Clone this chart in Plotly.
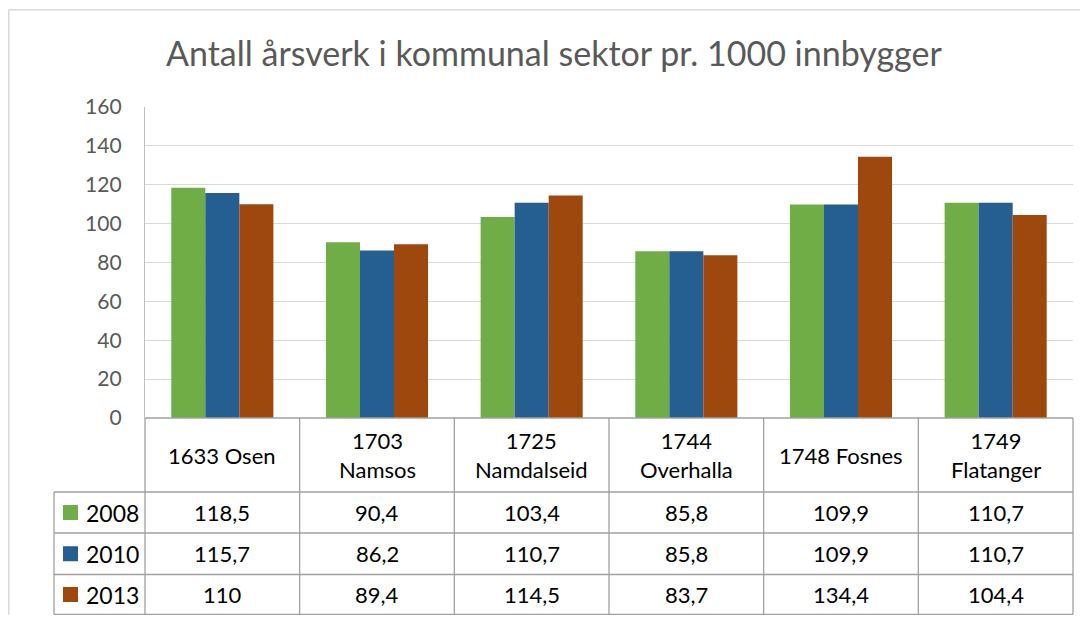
import plotly.graph_objects as go

# ---- data ----
categories = ["1633 Osen", "1703 Namsos", "1725 Namdalseid", "1744 Overhalla", "1748 Fosnes", "1749 Flatanger"]
header_labels = ["1633 Osen", "1703<br>Namsos", "1725<br>Namdalseid", "1744<br>Overhalla", "1748 Fosnes", "1749<br>Flatanger"]
series_names = ["2008", "2010", "2013"]
values_2008 = [118.5, 90.4, 103.4, 85.8, 109.9, 110.7]
values_2010 = [115.7, 86.2, 110.7, 85.8, 109.9, 110.7]
values_2013 = [110, 89.4, 114.5, 83.7, 134.4, 104.4]
series_values = [values_2008, values_2010, values_2013]
colors = ["#70AD47", "#255E91", "#9E480E"]
y_ticks = [0, 20, 40, 60, 80, 100, 120, 140, 160]
title_text = "Antall årsverk i kommunal sektor pr. 1000 innbygger"

FONT = "Lato"
OFF = 8  # page body margin
W, H = 1088 - 2 * OFF, 623 - 2 * OFF
L, R, T, B = 145, 1073, 107, 418  # plot area in page pixels


def px(xp):
    return (xp - L) / (R - L)


def py(yp):
    return (B - yp) / (B - T)


fig = go.Figure()
for name, vals, col in zip(series_names, series_values, colors):
    fig.add_trace(go.Bar(x=categories, y=vals, name=name, marker=dict(color=col, line=dict(width=0))))

shapes = []
annotations = []
line_col = "#A0A0A0"

# outer chart border (left and top edges visible)
shapes.append(dict(type="line", xref="paper", yref="paper", x0=px(8.8), x1=px(8.8), y0=py(640), y1=py(9.8),
                   line=dict(color="#D9D9D9", width=1.5), layer="below"))
shapes.append(dict(type="line", xref="paper", yref="paper", x0=px(8.8), x1=px(1100), y0=py(9.8), y1=py(9.8),
                   line=dict(color="#D9D9D9", width=1.5), layer="below"))

# table geometry
row_lines = [418, 492, 533, 574.5, 614.5]
col_w = (R - L) / len(categories)
legend_left = 54

shapes.append(dict(type="line", xref="paper", yref="paper", x0=0, x1=1, y0=py(418), y1=py(418),
                   line=dict(color=line_col, width=1.3)))
for yl in row_lines[1:]:
    shapes.append(dict(type="line", xref="paper", yref="paper", x0=px(legend_left), x1=1, y0=py(yl), y1=py(yl),
                       line=dict(color=line_col, width=1.3)))
for k in range(len(categories) + 1):
    xx = px(L + k * col_w)
    shapes.append(dict(type="line", xref="paper", yref="paper", x0=xx, x1=xx, y0=py(418), y1=py(row_lines[-1]),
                       line=dict(color=line_col, width=1.3)))
shapes.append(dict(type="line", xref="paper", yref="paper", x0=px(legend_left), x1=px(legend_left),
                   y0=py(492), y1=py(row_lines[-1]), line=dict(color=line_col, width=1.3)))

# header labels
for i, lab in enumerate(header_labels):
    annotations.append(dict(x=i, xref="x", y=py(455), yref="paper", text=lab, showarrow=False,
                            font=dict(family=FONT, size=22, color="#000000"), xanchor="center", yanchor="middle"))

# value rows and legend keys
for r, (name, vals, col) in enumerate(zip(series_names, series_values, colors)):
    yc = (row_lines[r + 1] + row_lines[r + 2]) / 2
    shapes.append(dict(type="rect", xref="paper", yref="paper", x0=px(63), x1=px(78), y0=py(yc + 7.5), y1=py(yc - 7.5),
                       line=dict(width=0), fillcolor=col))
    annotations.append(dict(x=px(84), xref="paper", y=py(yc), yref="paper", text=name, showarrow=False,
                            font=dict(family=FONT, size=23, color="#000000"), xanchor="left", yanchor="middle"))
    for i, v in enumerate(vals):
        txt = f"{v:g}".replace(".", ",")
        annotations.append(dict(x=i, xref="x", y=py(yc), yref="paper", text=txt, showarrow=False,
                                font=dict(family=FONT, size=22, color="#000000"), xanchor="center", yanchor="middle"))

# title
annotations.append(dict(x=px(554), xref="paper", y=py(52), yref="paper", text=title_text, showarrow=False,
                        font=dict(family=FONT, size=34, color="#595959"), xanchor="center", yanchor="middle"))

fig.update_layout(
    width=W, height=H,
    margin=dict(l=L - OFF, r=W - (R - OFF), t=T - OFF, b=H - (B - OFF), pad=0),
    paper_bgcolor="white", plot_bgcolor="white",
    barmode="group", bargap=0.34, bargroupgap=0,
    showlegend=False,
    shapes=shapes, annotations=annotations,
    font=dict(family=FONT),
)
fig.update_xaxes(showticklabels=False, showgrid=False, zeroline=False, showline=False, ticks="",
                 range=[-0.5, len(categories) - 0.5])
fig.update_yaxes(range=[0, 160], tickvals=y_ticks, showgrid=True, gridcolor="#D9D9D9", gridwidth=1.3,
                 zeroline=False, showline=True, linecolor="#BFBFBF", linewidth=1.3, ticks="",
                 ticklabelstandoff=18, tickfont=dict(family=FONT, size=21, color="#595959"))

fig.write_html("out.html")
